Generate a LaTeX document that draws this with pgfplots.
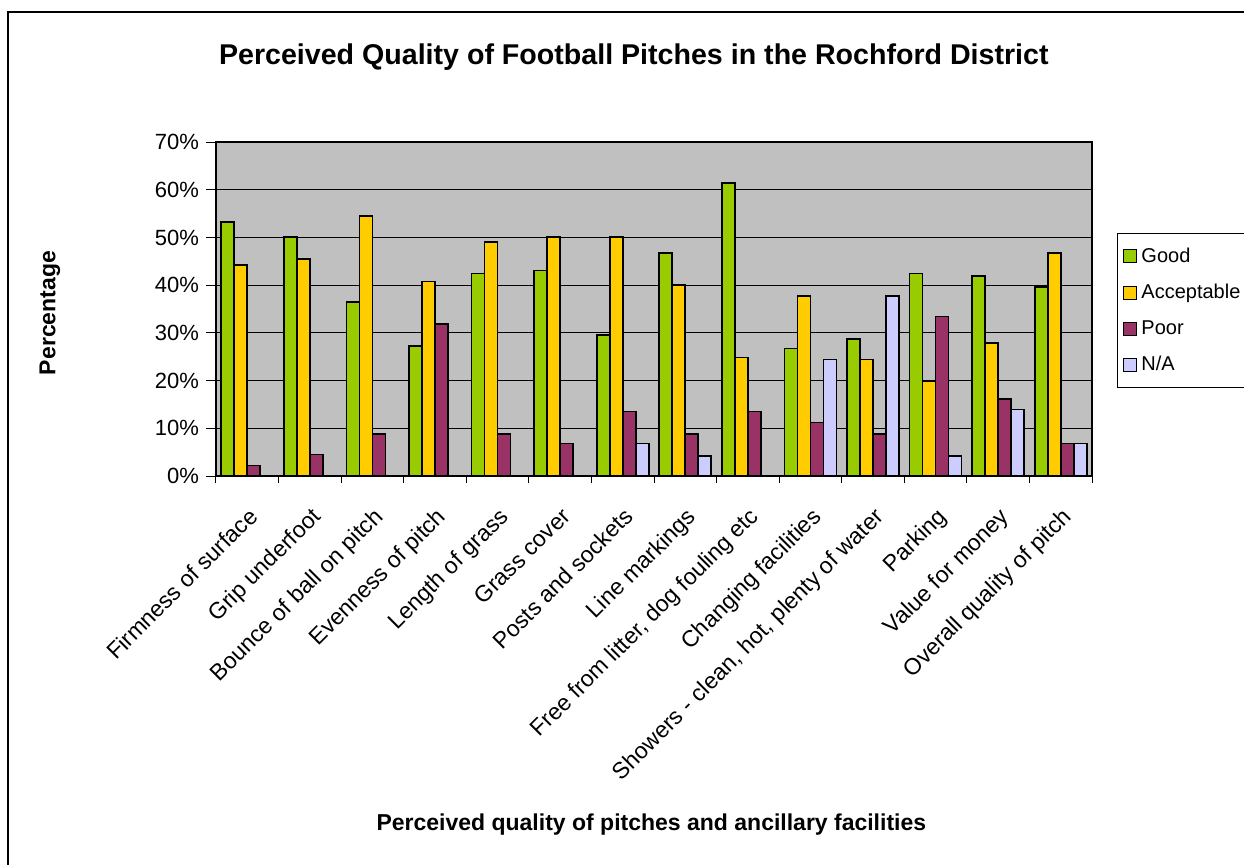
\documentclass[border=0pt]{standalone}
\usepackage{fontspec}
\setmainfont{Liberation Sans}
\usepackage{pgfplots}
\pgfplotsset{compat=1.18}
\usepackage{pgfplotstable}
\definecolor{cgood}{HTML}{99CC00}
\definecolor{cacc}{HTML}{FFCC00}
\definecolor{cpoor}{HTML}{993366}
\definecolor{cna}{HTML}{CCCCFF}
\definecolor{cbg}{HTML}{C0C0C0}
\pgfplotstableread{
x good acc poor na
0 53.2 44.2 2.2 nan
1 50.1 45.5 4.5 nan
2 36.5 54.5 8.8 nan
3 27.2 40.8 31.8 nan
4 42.4 49.0 8.8 nan
5 43.1 50.1 6.8 nan
6 29.5 50.1 13.5 6.8
7 46.7 40.0 8.8 4.2
8 61.4 24.8 13.5 nan
9 26.7 37.7 11.2 24.4
10 28.7 24.4 8.8 37.7
11 42.4 19.8 33.4 4.2
12 41.9 27.9 16.2 13.9
13 39.6 46.7 6.8 6.8
}\data
\begin{document}
\begin{tikzpicture}
\begin{axis}[
 at={(108pt,194pt)}, anchor=south west,
 scale only axis, width=438pt, height=167pt,
 ybar=0pt, bar width=6.5pt,
 xmin=-0.5, xmax=13.5, ymin=0, ymax=70,
 xtick={0,...,13},
 xticklabels={Firmness of surface,Grip underfoot,Bounce of ball on pitch,Evenness of pitch,Length of grass,Grass cover,Posts and sockets,Line markings,{Free from litter, dog fouling etc},Changing facilities,{Showers - clean, hot, plenty of water},Parking,Value for money,Overall quality of pitch},
 minor xtick={-0.5,0.5,...,13.5},
 ytick={0,10,...,70},
 yticklabel={\pgfmathprintnumber{\tick}\%},
 /pgf/number format/assume math mode=true,
 tick align=outside,
 xtick pos=bottom, ytick pos=left,
 major tick length=5pt, minor tick length=3.5pt,
 major x tick style={draw=none},
 minor x tick style={black, line width=0.5pt},
 major y tick style={black, line width=0.5pt},
 yticklabel style={font=\fontsize{11}{13}\selectfont},
 xticklabel style={font=\fontsize{11.5}{13}\selectfont, rotate=45, anchor=north east, inner sep=1pt, xshift=-6pt, yshift=-6pt},
 ymajorgrids, major grid style={black, line width=0.5pt},
 axis background/.style={fill=cbg},
 axis line style={black, line width=0.6pt},
 title={Perceived Quality of Football Pitches in the Rochford District},
 title style={font=\fontsize{14.3}{17}\selectfont\bfseries, at={(axis description cs:0.477,1.195)}, anchor=base},
 xlabel={Perceived quality of pitches and ancillary facilities},
 xlabel style={font=\fontsize{11.5}{14}\selectfont\bfseries, at={(axis description cs:0.497,-1.06)}, anchor=base},
 ylabel={Percentage},
 ylabel style={font=\fontsize{11.5}{14}\selectfont\bfseries, at={(axis description cs:-0.1895,0.488)}, anchor=center},
 legend style={at={(axis description cs:1.0285,0.7275)}, anchor=north west, draw=black, line width=0.5pt, font=\fontsize{10}{12}\selectfont, row sep=5.5pt, inner ysep=5pt, inner xsep=3pt, cells={anchor=west}},
 legend image code/.code={\draw[#1, draw=black, line width=0.5pt] (0pt,-3.25pt) rectangle (6.5pt,3.25pt);},
 every axis plot/.append style={draw=black, line width=0.8pt},
]
\addplot[fill=cgood] table[x=x,y=good]{\data};
\addplot[fill=cacc] table[x=x,y=acc]{\data};
\addplot[fill=cpoor] table[x=x,y=poor]{\data};
\addplot[fill=cna] table[x=x,y=na]{\data};
\legend{Good,Acceptable,Poor,N/A}
\end{axis}
\draw[line width=0.8pt] (4pt,-5pt) -- (4pt,426pt) -- (640pt,426pt);
\pgfresetboundingbox
\useasboundingbox (0,0) rectangle (622pt,432pt);
\end{tikzpicture}
\end{document}
